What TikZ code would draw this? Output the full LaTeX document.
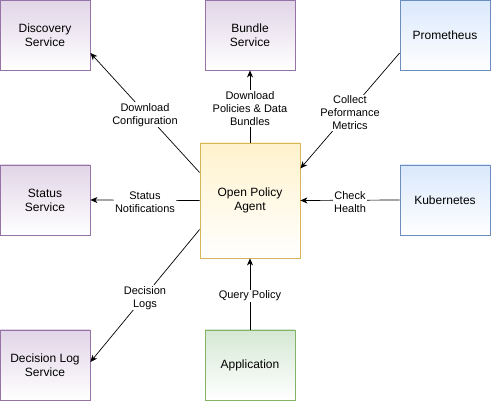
\documentclass[tikz,border=0pt]{standalone}
\usepackage{fontspec}
\setmainfont{Liberation Sans}
\usetikzlibrary{arrows.meta}

\definecolor{purplefill}{HTML}{E1D5E7}
\definecolor{purpleline}{HTML}{9673A6}
\definecolor{bluefill}{HTML}{DAE8FC}
\definecolor{blueline}{HTML}{6C8EBF}
\definecolor{yellowfill}{HTML}{FFF2CC}
\definecolor{yellowline}{HTML}{D6B656}
\definecolor{greenfill}{HTML}{D5E8D4}
\definecolor{greenline}{HTML}{82B366}

\tikzset{
    box/.style={draw, line width=0.8pt, minimum width=90pt, minimum height=70pt,
        inner sep=0pt, align=center, font=\fontsize{12}{14}\selectfont, bottom color=white},
    service/.style={box, draw=purpleline, top color=purplefill},
    monitor/.style={box, draw=blueline, top color=bluefill},
    agent/.style={box, draw=yellowline, top color=yellowfill, minimum width=100pt, minimum height=115pt},
    client/.style={box, draw=greenline, top color=greenfill},
    link/.style={draw, line width=0.7pt, -{Stealth[length=7pt,width=6pt,inset=2pt]}},
    lbl/.style={fill=white, inner sep=1pt, align=center, yshift=-2pt, font=\fontsize{11}{13}\selectfont}
}

\begin{document}
\begin{tikzpicture}[x=1pt,y=-1pt]
    \useasboundingbox (0,0) rectangle (491,401);

    \node[service] (discovery) at (45,35) {Discovery\\Service};
    \node[service] (bundle) at (250,35) {Bundle\\Service};
    \node[monitor] (prometheus) at (445,35) {Prometheus};

    \node[service] (status) at (45,200) {Status\\Service};
    \node[agent] (opa) at (250,200.5) {Open Policy\\Agent};
    \node[monitor] (kubernetes) at (445,200) {Kubernetes};

    \node[service] (decision) at (45,365) {Decision Log\\Service};
    \node[client] (application) at (250,365) {Application};

    \draw[link] ([yshift=28pt]opa.west) -- ([yshift=-18pt]discovery.east)
        node[lbl, pos=0.5] {Download\\Configuration};
    \draw[link] (opa.north) -- (bundle.south)
        node[lbl, pos=0.5] {Download\\Policies \& Data\\Bundles};
    \draw[link] ([yshift=-18pt]prometheus.west) -- ([yshift=32pt]opa.east)
        node[lbl, pos=0.5] {Collect\\Peformance\\Metrics};
    \draw[link] (kubernetes.west) -- (opa.east)
        node[lbl, pos=0.5] {Check\\Health};
    \draw[link] (opa.west) -- (status.east)
        node[lbl, pos=0.5] {Status\\Notifications};
    \draw[link] ([yshift=-29pt]opa.west) -- ([yshift=3pt]decision.east)
        node[lbl, pos=0.5] {Decision\\Logs};
    \draw[link] (application.north) -- (opa.south)
        node[lbl, pos=0.5] {Query Policy};
\end{tikzpicture}
\end{document}
